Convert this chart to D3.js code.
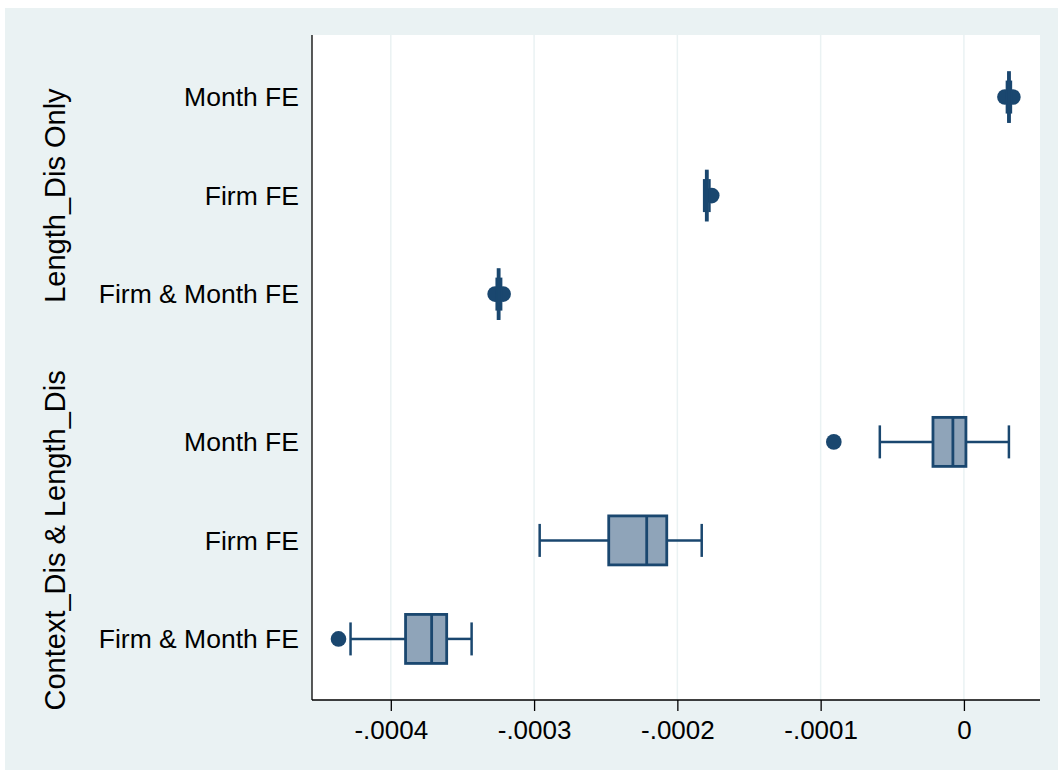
<!DOCTYPE html>
<html>
<head>
<meta charset="utf-8">
<script src="https://cdn.jsdelivr.net/npm/d3@7"></script>
<style>
  html, body { margin: 0; padding: 0; background: #fff; }
  text { font-family: "Liberation Sans", Arial, sans-serif; }
</style>
</head>
<body>
<script>
// box plot of coefficients, two specifications x three fixed-effect setups
var groups = ["Length_Dis Only", "Context_Dis & Length_Dis"];
var models = ["Month FE", "Firm FE", "Firm & Month FE"];

// one value per box, order: group 1 (3 models), then group 2 (3 models)
var lowerWhisker = [3.00e-5, -1.813e-4, -3.261e-4, -5.87e-5, -2.961e-4, -4.281e-4];
var q1           = [3.11e-5, -1.798e-4, -3.251e-4, -2.16e-5, -2.479e-4, -3.897e-4];
var median       = [3.14e-5, -1.795e-4, -3.247e-4, -7.7e-6, -2.214e-4, -3.715e-4];
var q3           = [3.18e-5, -1.791e-4, -3.244e-4, 1.4e-6, -2.074e-4, -3.610e-4];
var upperWhisker = [3.28e-5, -1.776e-4, -3.230e-4, 3.14e-5, -1.830e-4, -3.436e-4];
var outliers     = [[2.86e-5, 3.42e-5], [-1.760e-4], [-3.272e-4, -3.216e-4], [-9.08e-5], [], [-4.365e-4]];

var xTicks = [-0.0004, -0.0003, -0.0002, -0.0001, 0];
var xTickLabels = ["-.0004", "-.0003", "-.0002", "-.0001", "0"];

var width = 1058, height = 776;
var navy = "#1a476f";
var boxFill = "#8fa4b9";
var bg = "#eaf2f3";

var plot = {left: 312, right: 1040, top: 35, bottom: 700};

var rows = [];
groups.forEach(function(g, gi) {
    models.forEach(function(m, mi) {
        var i = gi * models.length + mi;
        rows.push({
            group: g, model: m, slot: gi * 3.5 + mi,
            lw: lowerWhisker[i], q1: q1[i], med: median[i], q3: q3[i], uw: upperWhisker[i],
            out: outliers[i]
        });
    });
});

var x = d3.scaleLinear()
    .domain([-0.000455, 0.0000531])
    .range([plot.left, plot.right]);

var y = d3.scaleLinear()
    .domain([-0.63, 6.12])
    .range([plot.top, plot.bottom]);

var svg = d3.select("body")
    .append("svg")
    .attr("width", width)
    .attr("height", height);

svg.append("rect")
    .attr("x", 5).attr("y", 8)
    .attr("width", width - 5).attr("height", 762)
    .attr("fill", bg);

svg.append("rect")
    .attr("x", plot.left).attr("y", plot.top)
    .attr("width", plot.right - plot.left).attr("height", plot.bottom - plot.top)
    .attr("fill", "#fff");

// vertical grid
svg.append("g")
    .selectAll("line")
    .data(xTicks)
    .enter()
    .append("line")
    .attr("x1", function(d) { return x(d); })
    .attr("x2", function(d) { return x(d); })
    .attr("y1", plot.top)
    .attr("y2", plot.bottom)
    .attr("stroke", bg)
    .attr("stroke-width", 1.5);

// bottom axis
var xAxis = d3.axisBottom(x)
    .tickValues(xTicks)
    .tickSize(11)
    .tickPadding(10)
    .tickFormat(function(d, i) { return xTickLabels[i]; });

var gx = svg.append("g")
    .attr("transform", "translate(0," + plot.bottom + ")")
    .call(xAxis);
gx.select(".domain").remove();
gx.selectAll(".tick line").attr("stroke", "#000").attr("stroke-width", 1.3);
gx.selectAll(".tick text")
    .attr("fill", "#000")
    .attr("font-size", 26)
    .attr("font-family", "Liberation Sans, Arial, sans-serif");

svg.append("line")
    .attr("x1", plot.left).attr("x2", plot.right)
    .attr("y1", plot.bottom).attr("y2", plot.bottom)
    .attr("stroke", "#000").attr("stroke-width", 1.3);
svg.append("line")
    .attr("x1", plot.left).attr("x2", plot.left)
    .attr("y1", plot.top).attr("y2", plot.bottom)
    .attr("stroke", "#000").attr("stroke-width", 1.3);

// category labels
svg.append("g")
    .selectAll("text")
    .data(rows)
    .enter()
    .append("text")
    .attr("x", plot.left - 13)
    .attr("y", function(d) { return y(d.slot); })
    .attr("dy", "0.35em")
    .attr("text-anchor", "end")
    .attr("font-size", 26.5)
    .attr("fill", "#000")
    .text(function(d) { return d.model; });

// group titles, rotated
svg.append("g")
    .selectAll("text")
    .data(groups)
    .enter()
    .append("text")
    .attr("transform", function(d, i) {
        var mid = (y(i * 3.5) + y(i * 3.5 + 2)) / 2;
        return "translate(55," + mid + ") rotate(-90)";
    })
    .attr("dy", "0.35em")
    .attr("text-anchor", "middle")
    .attr("font-size", 29)
    .attr("fill", "#000")
    .text(function(d) { return d; });

var boxH = 49, capH = 33;

var box = svg.append("g")
    .selectAll("g")
    .data(rows)
    .enter()
    .append("g")
    .attr("transform", function(d) { return "translate(0," + y(d.slot) + ")"; });

// outside values
box.selectAll("circle")
    .data(function(d) { return d.out; })
    .enter()
    .append("circle")
    .attr("cx", function(d) { return x(d); })
    .attr("cy", 0)
    .attr("r", 7.8)
    .attr("fill", navy);

// whiskers
box.append("line")
    .attr("x1", function(d) { return x(d.lw); })
    .attr("x2", function(d) { return x(d.q1); })
    .attr("stroke", navy).attr("stroke-width", 2.5);
box.append("line")
    .attr("x1", function(d) { return x(d.q3); })
    .attr("x2", function(d) { return x(d.uw); })
    .attr("stroke", navy).attr("stroke-width", 2.5);
box.append("line")
    .attr("x1", function(d) { return x(d.lw); })
    .attr("x2", function(d) { return x(d.lw); })
    .attr("y1", -capH / 2).attr("y2", capH / 2)
    .attr("stroke", navy).attr("stroke-width", 2.5);
box.append("line")
    .attr("x1", function(d) { return x(d.uw); })
    .attr("x2", function(d) { return x(d.uw); })
    .attr("y1", -capH / 2).attr("y2", capH / 2)
    .attr("stroke", navy).attr("stroke-width", 2.5);

box.append("rect")
    .attr("x", function(d) { return x(d.q1); })
    .attr("width", function(d) { return x(d.q3) - x(d.q1); })
    .attr("y", -boxH / 2)
    .attr("height", boxH)
    .attr("fill", boxFill)
    .attr("stroke", navy)
    .attr("stroke-width", 2.8);

box.append("line")
    .attr("x1", function(d) { return x(d.med); })
    .attr("x2", function(d) { return x(d.med); })
    .attr("y1", -boxH / 2).attr("y2", boxH / 2)
    .attr("stroke", navy).attr("stroke-width", 2.8);
</script>
</body>
</html>
